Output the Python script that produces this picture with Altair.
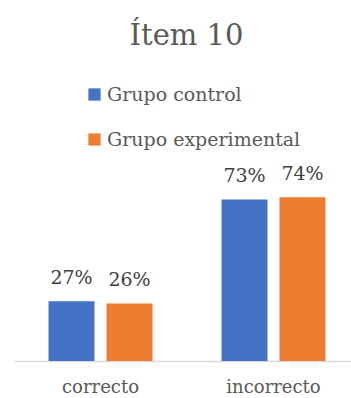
import altair as alt
import pandas as pd

categorias = ["correcto", "incorrecto"]
grupos = ["Grupo control", "Grupo experimental"]
control = [0.27, 0.73]
experimental = [0.26, 0.74]
colores = ["#4472C4", "#ED7D31"]

rows = []
for i, c in enumerate(categorias):
    rows.append({"categoria": c, "grupo": grupos[0], "valor": control[i]})
    rows.append({"categoria": c, "grupo": grupos[1], "valor": experimental[i]})
df = pd.DataFrame(rows)

FONT = "DejaVu Serif"

x = alt.X("categoria:N", sort=categorias, title=None,
          scale=alt.Scale(range=[0, 346], paddingInner=0, paddingOuter=0),
          axis=alt.Axis(labelAngle=0, labelFont=FONT, labelFontSize=18,
                        labelColor="#595959", ticks=False, domainColor="#D9D9D9",
                        domainWidth=1.5, labelPadding=17, grid=False))
xo = alt.XOffset("grupo:N", sort=grupos,
                 scale=alt.Scale(paddingInner=0.207, paddingOuter=0.595))
y = alt.Y("valor:Q", scale=alt.Scale(domain=[0, 0.8]), axis=None)

bars = alt.Chart(df).mark_bar().encode(
    x=x, xOffset=xo, y=y,
    color=alt.Color("grupo:N", sort=grupos,
                    scale=alt.Scale(domain=grupos, range=colores),
                    legend=alt.Legend(title=None, orient="none", legendX=71, legendY=-99,
                                      direction="vertical", symbolType="square",
                                      symbolSize=150, symbolStrokeWidth=0,
                                      labelFont=FONT, labelFontSize=19,
                                      labelColor="#595959", rowPadding=25,
                                      labelOffset=3, padding=0, labelLimit=400))
)

labels = alt.Chart(df).mark_text(font=FONT, fontSize=19, color="#404040",
                                 baseline="alphabetic", dy=-17).encode(
    x=x, xOffset=xo, y=y,
    text=alt.Text("valor:Q", format=".0%")
)

chart = (bars + labels).properties(
    width=337, height=177,
    title=alt.TitleParams("Ítem 10", font=FONT, fontSize=29, color="#595959",
                          fontWeight="normal", anchor="middle", dx=4, offset=34),
    padding={"left": 14, "top": 184, "right": 0, "bottom": 37},
    autosize=alt.AutoSizeParams(type="none"),
).configure_view(stroke=None)

chart.save("out.html", embed_options={"renderer": "svg", "actions": False})
